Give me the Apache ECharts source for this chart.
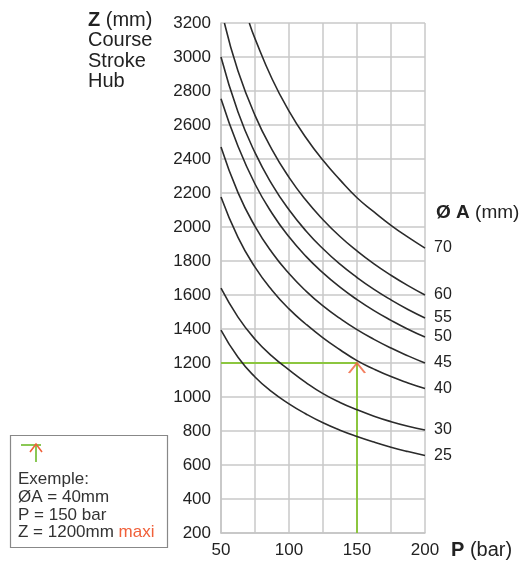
<!DOCTYPE html>
<html><head><meta charset="utf-8">
<script src="https://cdn.jsdelivr.net/npm/echarts@6/dist/echarts.min.js"></script>
<style>html,body{margin:0;padding:0;background:#fff}#c{width:527px;height:562px}</style>
</head><body><div id="c"></div>
<script>
// Diameters (mm) and curves: [P (bar), Z (mm)]
const diameters = ['70','60','55','50','45','40','30','25'];
const d70 = [[70.8,3200],[75,3108],[87.5,2872],[100,2682],[112.5,2525],[125,2392],[137.5,2277],[150,2172],[162.5,2089],[175,2010],[187.5,1940],[200,1876]];
const d60 = [[52.5,3200],[62.5,2918],[75,2657],[87.5,2455],[100,2292],[112.5,2157],[125,2043],[137.5,1944],[150,1859],[162.5,1783],[175,1716],[187.5,1655],[200,1600]];
const d55 = [[50,3000],[62.5,2676],[75,2437],[87.5,2251],[100,2101],[112.5,1977],[125,1872],[137.5,1781],[150,1703],[162.5,1633],[175,1571],[187.5,1515],[200,1465]];
const d50 = [[50,2755],[62.5,2475],[75,2253],[87.5,2081],[100,1942],[112.5,1827],[125,1730],[137.5,1646],[150,1573],[162.5,1508],[175,1451],[187.5,1399],[200,1353]];
const d45 = [[50,2470],[62.5,2202],[75,2004],[87.5,1850],[100,1726],[112.5,1623],[125,1536],[137.5,1462],[150,1396],[162.5,1339],[175,1288],[187.5,1242],[200,1200]];
const d40 = [[50,2176],[62.5,1939],[75,1764],[87.5,1628],[100,1518],[112.5,1428],[125,1348],[137.5,1278],[150,1214],[162.5,1164],[175,1120],[187.5,1083],[200,1050]];
const d30 = [[50,1640],[62.5,1470],[75,1340],[87.5,1240],[100,1160],[112.5,1085],[125,1020],[137.5,968],[150,925],[162.5,887],[175,855],[187.5,828],[200,806]];
const d25 = [[50,1394],[62.5,1234],[75,1118],[87.5,1030],[100,960],[112.5,900],[125,848],[137.5,805],[150,768],[162.5,735],[175,705],[187.5,679],[200,656]];
const curves = [d70,d60,d55,d50,d45,d40,d30,d25];
// Example: ØA = 40mm, P = 150 bar, Z = 1200mm
const exampleP = 150, exampleZ = 1200;
const xMin = 50, xMax = 200, xStep = 25;
const yMin = 200, yMax = 3200, yStep = 200;

const chart = echarts.init(document.getElementById('c'));
const FONT = 'Liberation Sans, Arial, sans-serif';
const curveSeries = curves.map((d,i)=>({
  name: diameters[i], type:'line', data:d, smooth:0.5, symbol:'none', z:3,
  lineStyle:{color:'#2b2b2b', width:1.6},
  endLabel:{show:true, formatter:'{a}', color:'#222', fontSize:16, fontFamily:FONT, distance:9}
}));
chart.setOption({
  animation:false,
  grid:{left:221, right:102, top:23, bottom:29},
  xAxis:{type:'value', min:xMin, max:xMax, interval:xStep,
    axisLine:{show:true, lineStyle:{color:'#c4c4c4', width:1.5}}, axisTick:{show:false},
    splitLine:{show:true, lineStyle:{color:'#c9c9c9', width:1.5}},
    axisLabel:{fontSize:17, color:'#222', fontFamily:FONT, margin:9,
      formatter:v=> (v%50===0? String(v):'')}},
  yAxis:{type:'value', min:yMin, max:yMax, interval:yStep,
    axisLine:{show:true, lineStyle:{color:'#c4c4c4', width:1.5}}, axisTick:{show:false},
    splitLine:{show:true, lineStyle:{color:'#c9c9c9', width:1.5}},
    axisLabel:{fontSize:17, color:'#222', fontFamily:FONT, margin:10, formatter:v=>String(v)}},
  series:[
    {type:'line', data:[[xMin,exampleZ],[exampleP,exampleZ],[exampleP,yMin]], symbol:'none', z:2,
     lineStyle:{color:'#8cc63f', width:2}},
    ...curveSeries,
    {type:'scatter', data:[[exampleP,exampleZ]], z:5,
     symbol:'path://M0,10 L8,0 L16,10', symbolSize:[16,10], symbolOffset:[0,5],
     itemStyle:{color:'rgba(0,0,0,0)', borderColor:'#f0603a', borderWidth:1.8}}
  ],
  graphic:[
    {type:'text', left:88, top:10, style:{text:'{b|Z} (mm)\nCourse\nStroke\nHub', fontSize:20, lineHeight:20.5, fill:'#222', fontFamily:FONT,
      rich:{b:{fontWeight:'bold', fontSize:20, fill:'#222', fontFamily:FONT}}}},
    {type:'text', left:436, top:203, style:{text:'{b|Ø A} (mm)', fontSize:19, fill:'#222', fontFamily:FONT,
      rich:{b:{fontWeight:'bold', fontSize:19, fill:'#222', fontFamily:FONT}}}},
    {type:'text', left:451, top:540, style:{text:'{b|P} (bar)', fontSize:20, fill:'#222', fontFamily:FONT,
      rich:{b:{fontWeight:'bold', fontSize:20, fill:'#222', fontFamily:FONT}}}},
    {type:'rect', shape:{x:10.5, y:435.5, width:157, height:112}, style:{fill:'#fff', stroke:'#888', lineWidth:1.2}},
    {type:'line', shape:{x1:21, y1:445, x2:41, y2:445}, style:{stroke:'#7dc242', lineWidth:1.8}},
    {type:'line', shape:{x1:36, y1:445, x2:36, y2:462}, style:{stroke:'#7dc242', lineWidth:1.8}},
    {type:'polyline', shape:{points:[[30,452],[36,444],[42,452]]}, style:{stroke:'#f0603a', lineWidth:1.6, fill:null}},
    {type:'text', left:18, top:471, style:{text:'Exemple:\nØA = 40mm\nP = 150 bar\nZ = 1200mm {r|maxi}', fontSize:17, lineHeight:17.6, fill:'#333', fontFamily:FONT,
      rich:{r:{fill:'#f0603a', fontSize:17, fontFamily:FONT}}}}
  ]
});
</script></body></html>
